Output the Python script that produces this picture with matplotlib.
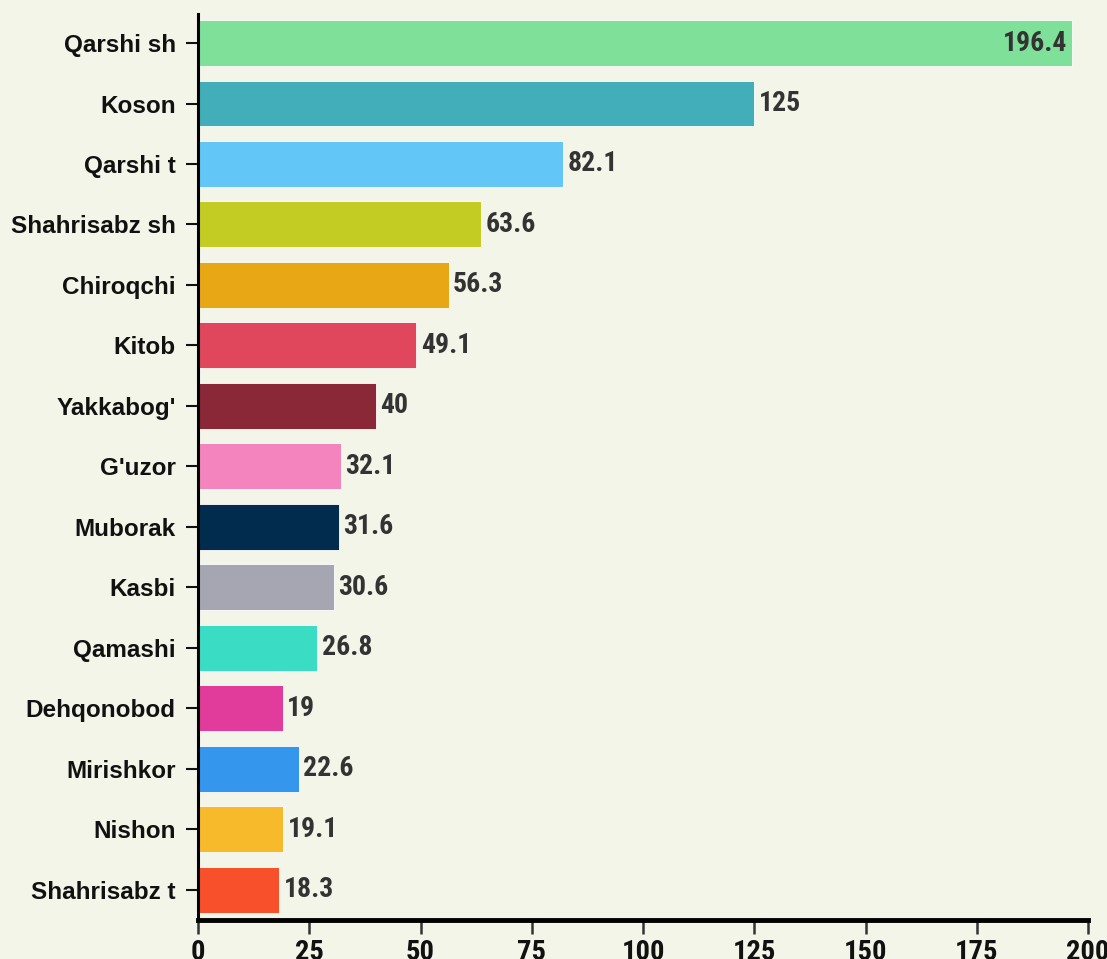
import matplotlib
matplotlib.use("Agg")
import matplotlib.pyplot as plt
from matplotlib import font_manager

districts = ["Qarshi sh", "Koson", "Qarshi t", "Shahrisabz sh", "Chiroqchi", "Kitob",
             "Yakkabog'", "G'uzor", "Muborak", "Kasbi", "Qamashi", "Dehqonobod",
             "Mirishkor", "Nishon", "Shahrisabz t"]
values = [196.4, 125, 82.1, 63.6, 56.3, 49.1, 40, 32.1, 31.6, 30.6, 26.8, 19, 22.6, 19.1, 18.3]
colors = ["#7FE09A", "#42AEB9", "#62C6F6", "#C2CC22", "#E8A714", "#E0475C", "#8A2837",
          "#F484BD", "#022C4D", "#A6A6B3", "#3ADDC4", "#E13B9B", "#3496EC", "#F7BA2B",
          "#F8502B"]
xticks = [0, 25, 50, 75, 100, 125, 150, 175, 200]

names = {f.name for f in font_manager.fontManager.ttflist}
narrow = "Roboto"
for cand in ["Roboto Condensed", "Liberation Sans Narrow", "Open Sans Condensed"]:
    if cand in names:
        narrow = cand
        break
bg = "#F3F5E8"

fig = plt.figure(figsize=(11.07, 9.59), dpi=100, facecolor=bg)
ax = fig.add_axes([198 / 1107, 1 - 920 / 959, 890 / 1107, 906 / 959])
ax.set_facecolor(bg)

y = list(range(len(districts)))
ax.barh(y, values, height=0.76, color=colors, edgecolor="#FFFFFF", linewidth=0.6)

ax.set_xlim(0, 200)
ax.set_ylim(14.5, -0.48)
ax.set_yticks(y)
ax.set_yticklabels(districts, fontsize=17.5, fontweight="bold", family="Liberation Sans", color="#111111")
ax.set_xticks(xticks)
ax.set_xticklabels([str(t) for t in xticks], fontsize=20.5, fontweight="bold", family=narrow, color="#111111")
ax.tick_params(axis="y", length=9, width=1.5, pad=7, color="#111111")
ax.tick_params(axis="x", length=10, width=1.8, pad=3.5, color="#333333")

for s in ["top", "right"]:
    ax.spines[s].set_visible(False)
ax.spines["left"].set_linewidth(2.2)
ax.spines["bottom"].set_linewidth(3.5)

for yi, v in zip(y, values):
    label = f"{v:g}"
    if v > 150:
        ax.text(v - 1, yi, label, ha="right", va="center", fontsize=20, fontweight="bold",
                family=narrow, color="#333333")
    else:
        ax.text(v + 1.0, yi, label, ha="left", va="center", fontsize=20, fontweight="bold",
                family=narrow, color="#333333")

fig.savefig("out.png", dpi=100, facecolor=bg)
